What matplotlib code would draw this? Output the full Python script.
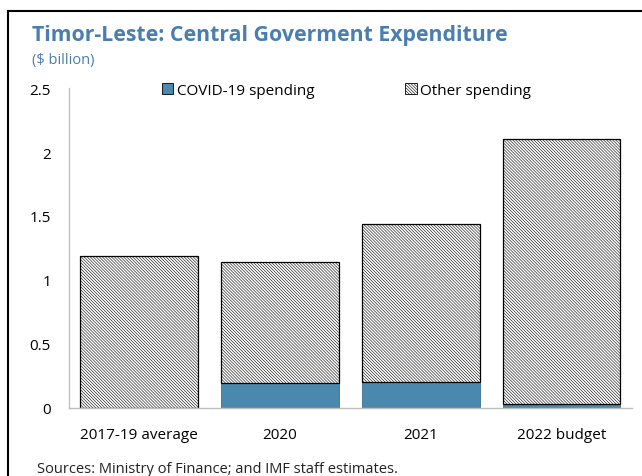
import matplotlib
matplotlib.use("Agg")
import matplotlib.pyplot as plt
from matplotlib.lines import Line2D
from matplotlib.patches import Patch

plt.rcParams['font.family'] = ['Open Sans', 'DejaVu Sans']
plt.rcParams['hatch.linewidth'] = 0.4

categories = ["2017-19 average", "2020", "2021", "2022 budget"]
covid_spending = [0.0, 0.195, 0.20, 0.03]
total_spending = [1.19, 1.14, 1.44, 2.10]
other_spending = [t - c for t, c in zip(total_spending, covid_spending)]
y_ticks = [0, 0.5, 1, 1.5, 2, 2.5]
y_tick_labels = ["0", "0.5", "1", "1.5", "2", "2.5"]

BLUE = "#4a88ad"
TITLE_BLUE = "#4a7eb0"
HATCH = "\\" * 11

fig = plt.figure(figsize=(6.42, 4.77), dpi=100)
ax = fig.add_axes([0.1075, 0.1426, 0.8765, 0.6708])

x = range(len(categories))
width = 0.837
ax.bar(x, covid_spending, width=width, color=BLUE, edgecolor="#3a6f8f", linewidth=0.6)
ax.bar(x, other_spending, width=width, bottom=covid_spending, color="white",
       edgecolor="black", hatch=HATCH, linewidth=0.9)

ax.set_xlim(-0.5, 3.5)
ax.set_ylim(0, 2.5)
ax.set_yticks(y_ticks)
ax.set_yticklabels(y_tick_labels)
ax.set_xticks(list(x))
ax.set_xticklabels(categories)
ax.tick_params(axis="both", length=0, labelsize=11, colors="black")
ax.tick_params(axis="y", pad=13)
ax.tick_params(axis="x", pad=14)
for side in ("top", "right"):
    ax.spines[side].set_visible(False)
for side in ("left", "bottom"):
    ax.spines[side].set_color("#bfbfbf")
    ax.spines[side].set_linewidth(1.0)

handles = [
    Patch(facecolor=BLUE, edgecolor="black", linewidth=0.6, label="COVID-19 spending"),
    Patch(facecolor="white", edgecolor="black", hatch=HATCH, linewidth=0.6,
          label="Other spending"),
]
fig.legend(handles=handles, loc="center", bbox_to_anchor=(0.540, 0.809), ncol=2,
           frameon=False, fontsize=11, handlelength=0.75, handleheight=0.75,
           handletextpad=0.25, columnspacing=5.9)

fig.text(0.050, 0.925, "Timor-Leste: Central Goverment Expenditure", fontsize=15.3,
         fontweight="bold", color=TITLE_BLUE, va="center", ha="left")
fig.text(0.050, 0.873, "($ billion)", fontsize=10.5, color=TITLE_BLUE, va="center", ha="left")
fig.text(0.058, 0.016, "Sources: Ministry of Finance; and IMF staff estimates.",
         fontsize=10.5, color="#222222", va="center", ha="left")

# outer frame lines (left and top)
fig.add_artist(Line2D([0.0125, 0.0125], [0.0, 0.975], transform=fig.transFigure,
                      color="black", linewidth=1.5))
fig.add_artist(Line2D([0.0125, 1.0], [0.975, 0.975], transform=fig.transFigure,
                      color="black", linewidth=1.5))

fig.savefig("out.png", dpi=100)
